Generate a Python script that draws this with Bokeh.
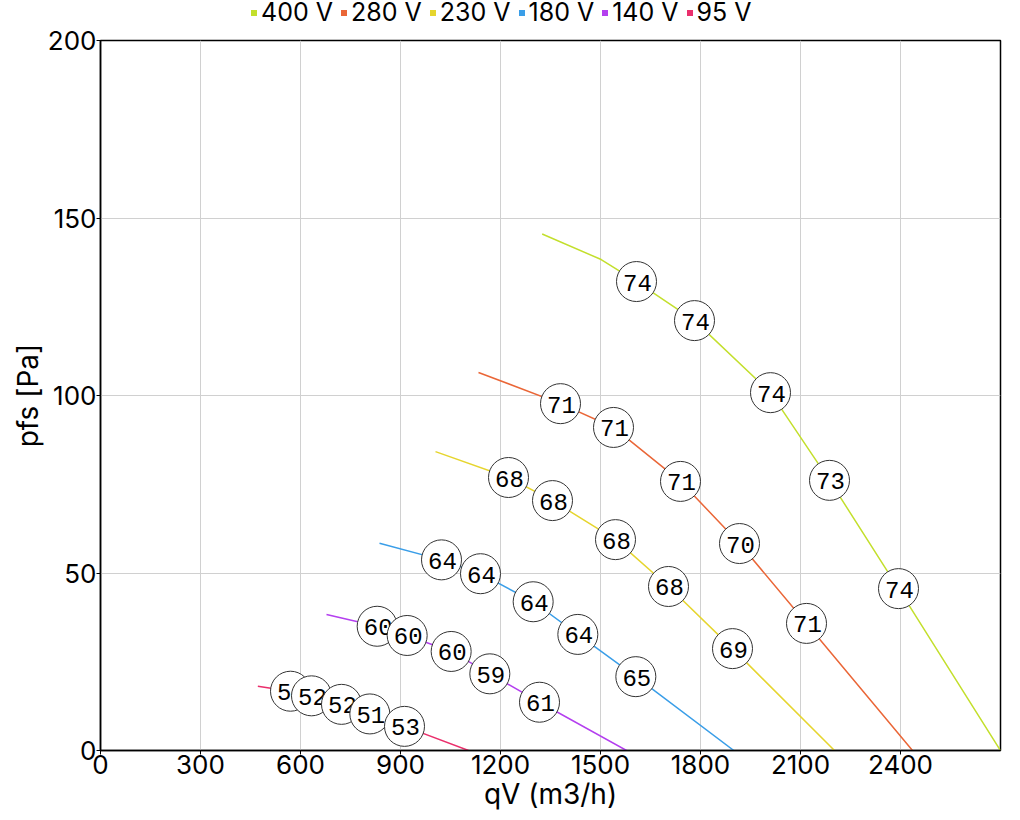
from bokeh.plotting import figure
from bokeh.layouts import column
from bokeh.models import ColumnDataSource, Legend, LegendItem, FixedTicker, Range1d
from bokeh.core.properties import value
from bokeh.embed import file_html
from bokeh.resources import INLINE

# ---- data ----
series_names = ["400 V", "280 V", "230 V", "180 V", "140 V", "95 V"]
series_colors = ["#c3df2c", "#ea6637", "#e6d52e", "#3a9ee8", "#b43fef", "#ea2f6c"]

# curves (qV in m3/h, pfs in Pa)
qv_400 = [1325, 1502, 1608, 1782, 2010, 2187, 2394, 2700]
pfs_400 = [145.5, 138.3, 132.1, 121.1, 100.8, 76.1, 45.6, 0]
qv_280 = [1134, 1380, 1539, 1740, 1917, 2118, 2436]
pfs_280 = [106.5, 97.7, 91.0, 75.8, 58.3, 35.8, 0]
qv_230 = [1005, 1224, 1356, 1545, 1704, 1896, 2202]
pfs_230 = [84.2, 76.9, 70.4, 59.4, 46.2, 28.7, 0]
qv_180 = [837, 1023, 1140, 1298, 1432, 1606, 1900]
pfs_180 = [58.4, 53.7, 49.8, 41.9, 32.7, 20.8, 0]
qv_140 = [678, 830, 920, 1052, 1168, 1317, 1578]
pfs_140 = [38.3, 35.0, 32.4, 27.9, 21.6, 13.6, 0]
qv_95 = [472, 570, 633, 723, 808, 912, 1104]
pfs_95 = [18.1, 16.7, 15.4, 13.0, 10.3, 6.8, 0]

# labelled operating points (sound level)
mark_qv_400 = [1608, 1782, 2010, 2187, 2394]
mark_pfs_400 = [132.1, 121.1, 100.8, 76.1, 45.6]
mark_lbl_400 = ["74", "74", "74", "73", "74"]
mark_qv_280 = [1380, 1539, 1740, 1917, 2118]
mark_pfs_280 = [97.7, 91.0, 75.8, 58.3, 35.8]
mark_lbl_280 = ["71", "71", "71", "70", "71"]
mark_qv_230 = [1224, 1356, 1545, 1704, 1896]
mark_pfs_230 = [76.9, 70.4, 59.4, 46.2, 28.7]
mark_lbl_230 = ["68", "68", "68", "68", "69"]
mark_qv_180 = [1023, 1140, 1298, 1432, 1606]
mark_pfs_180 = [53.7, 49.8, 41.9, 32.7, 20.8]
mark_lbl_180 = ["64", "64", "64", "64", "65"]
mark_qv_140 = [830, 920, 1052, 1168, 1317]
mark_pfs_140 = [35.0, 32.4, 27.9, 21.6, 13.6]
mark_lbl_140 = ["60", "60", "60", "59", "61"]
mark_qv_95 = [570, 633, 723, 808, 912]
mark_pfs_95 = [16.7, 15.4, 13.0, 10.3, 6.8]
mark_lbl_95 = ["52", "52", "52", "51", "53"]

x_ticks = [0, 300, 600, 900, 1200, 1500, 1800, 2100, 2400]
y_ticks = [0, 50, 100, 150, 200]
x_max = 2700
y_max = 200

curves = [(qv_400, pfs_400), (qv_280, pfs_280), (qv_230, pfs_230),
          (qv_180, pfs_180), (qv_140, pfs_140), (qv_95, pfs_95)]
marks = [(mark_qv_400, mark_pfs_400, mark_lbl_400), (mark_qv_280, mark_pfs_280, mark_lbl_280),
         (mark_qv_230, mark_pfs_230, mark_lbl_230), (mark_qv_180, mark_pfs_180, mark_lbl_180),
         (mark_qv_140, mark_pfs_140, mark_lbl_140), (mark_qv_95, mark_pfs_95, mark_lbl_95)]

FONT = "Inter"
MONO = "Liberation Mono"

# ---- legend strip above the chart ----
lf = figure(width=1015, height=26, output_backend="svg", toolbar_location=None,
            x_range=Range1d(0, x_max), y_range=Range1d(-1000, -999),
            x_axis_type=None, y_axis_type=None,
            min_border_left=0, min_border_right=0, min_border_top=0, min_border_bottom=0)
lf.outline_line_color = None
lf.xgrid.visible = False
lf.ygrid.visible = False
lf.background_fill_color = "white"
lf.border_fill_color = "white"

# ---- main chart ----
p = figure(width=1015, height=789, output_backend="svg", toolbar_location=None,
           x_range=Range1d(0, x_max), y_range=Range1d(0, y_max),
           min_border_left=100, min_border_top=14, min_border_right=15, min_border_bottom=65,
           x_axis_label="qV (m3/h)", y_axis_label="pfs [Pa]")
p.background_fill_color = "white"
p.border_fill_color = "white"
p.outline_line_color = "black"
p.outline_line_width = 1.5
p.outline_line_alpha = 1

for ax in (p.xaxis[0], p.yaxis[0]):
    ax.axis_line_color = "black"
    ax.axis_line_width = 1.5
    ax.major_tick_line_color = "black"
    ax.major_tick_out = 4
    ax.major_tick_in = 0
    ax.minor_tick_line_color = None
    ax.major_label_text_font = FONT
    ax.major_label_text_font_size = "26px"
    ax.major_label_text_color = "black"
    ax.axis_label_text_font = FONT
    ax.axis_label_text_font_size = "28px"
    ax.axis_label_text_font_style = "normal"
    ax.axis_label_text_color = "black"
    ax.major_label_standoff = 0
    ax.axis_label_standoff = 0

p.xaxis.ticker = FixedTicker(ticks=x_ticks)
p.yaxis.ticker = FixedTicker(ticks=y_ticks)
p.xgrid.ticker = FixedTicker(ticks=x_ticks)
p.ygrid.ticker = FixedTicker(ticks=y_ticks)
p.grid.grid_line_color = "#d0d0d0"
p.grid.grid_line_width = 1

legend_items = []
for (xs, ys), name, col in zip(curves, series_names, series_colors):
    src = ColumnDataSource(dict(x=xs, y=ys))
    p.line("x", "y", source=src, line_color=col, line_width=1.5)
    key = lf.scatter("x", "y", source=src, marker="square", size=0,
                     fill_color=col, line_alpha=0)
    legend_items.append(LegendItem(label=name, renderers=[key]))

for mx, my, ml in marks:
    for i in range(len(mx)):
        src = ColumnDataSource(dict(x=[mx[i]], y=[my[i]], t=[ml[i]]))
        p.scatter("x", "y", source=src, marker="circle", size=40,
                  fill_color="white", line_color="#333333", line_width=1)
        p.text("x", "y", text="t", source=src, text_font=value(MONO),
               text_font_size="24px", text_align="center", text_baseline="middle",
               text_color="black", x_offset=1, y_offset=1)

legend = Legend(items=legend_items, orientation="horizontal", location=(146, -1),
                label_text_font=FONT, label_text_font_size="25px", label_text_color="black",
                glyph_width=15, glyph_height=15, label_standoff=0, spacing=3,
                padding=0, margin=0, border_line_alpha=0, background_fill_alpha=0,
                label_height=25)
lf.add_layout(legend, "center")

page = column(lf, p, spacing=0)
open("out.html", "w").write(file_html(page, INLINE))
